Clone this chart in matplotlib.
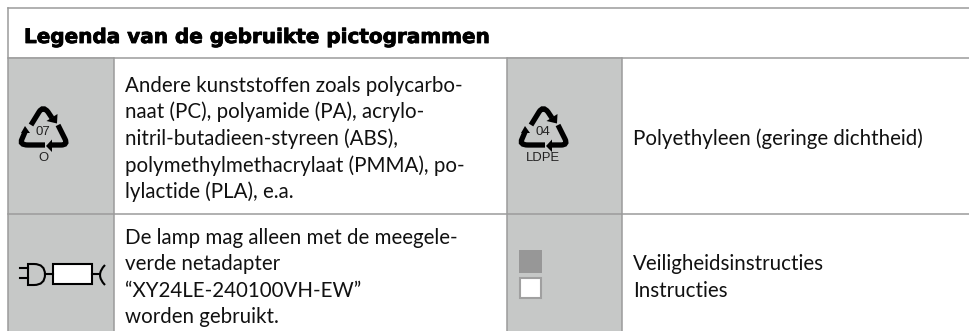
import matplotlib
matplotlib.use('Agg')
import matplotlib.pyplot as plt
import matplotlib.patheffects as pe
from matplotlib.patches import Rectangle, Polygon, PathPatch
from matplotlib.path import Path

title = 'Legenda van de gebruikte pictogrammen'
left_lines_1 = ['Andere kunststoffen zoals polycarbo-', 'naat (PC), polyamide (PA), acrylo-',
                'nitril-butadieen-styreen (ABS),', 'polymethylmethacrylaat (PMMA), po-',
                'lylactide (PLA), e.a.']
left_lines_2 = ['De lamp mag alleen met de meegele-', 'verde netadapter',
                '\u201cXY24LE-240100VH-EW\u201d', 'worden gebruikt.']
right_lines_1 = ['Polyethyleen (geringe dichtheid)']
right_lines_2 = ['Veiligheidsinstructies', 'Instructies']
y_left_1 = [92, 118.5, 145, 172, 198]
y_left_2 = [244, 270, 297, 323]
y_right_1 = [145]
y_right_2 = [270, 297]

GREY = '#c6c8c7'
LINE = '#9b9b9b'
FONT = 'Lato'
TXT = 14.8

fig = plt.figure(figsize=(9.69, 3.31), dpi=100)
ax = fig.add_axes([0, 0, 1, 1])
ax.set_xlim(0, 969)
ax.set_ylim(331, 0)
ax.axis('off')

#Grey cells
ax.add_patch(Rectangle((8, 57), 106, 274, fc=GREY, ec='none'))
ax.add_patch(Rectangle((507, 57), 115, 274, fc=GREY, ec='none'))

#Table lines
for y in [8, 57.5, 214]:
    ax.plot([8, 969], [y, y], color=LINE, lw=1.1)
for x in [8, 114, 507, 622]:
    y0 = 8 if x == 8 else 57.5
    ax.plot([x, x], [y0, 331], color=LINE, lw=1.1)

head = ax.text(24, 43, title, fontsize=14.4, fontweight='bold', family='DejaVu Sans', va='baseline', color='black')
head.set_path_effects([pe.withStroke(linewidth=0.6, foreground='black')])


def lines(x, ys, txts):
    for y, t in zip(ys, txts):
        ax.text(x, y, t, fontsize=TXT, family=FONT, va='baseline', color='#111111')


lines(125, y_left_1, left_lines_1)
lines(125, y_left_2, left_lines_2)
lines(633, y_right_1, right_lines_1)
lines(633, y_right_2, right_lines_2)


def recycle(cx, num, code):
    #three bent arrows around a triangle, coords relative to centre x and absolute y
    M, L, C = Path.MOVETO, Path.LINETO, Path.CURVE3
    arms = [
        ([(-12, 125), (-4, 112), (0, 105.5), (5, 112), (9, 118)], [M, L, C, C, L]),
        ([(15, 125), (22, 139), (25, 145), (18, 145), (9, 145)], [M, L, C, C, L]),
        ([(2, 145), (-15, 145), (-24, 145), (-21, 139), (-18, 132)], [M, L, C, C, L]),
    ]
    for verts, codes in arms:
        pts = [(cx + a, b) for a, b in verts]
        ax.add_patch(PathPatch(Path(pts, codes), fc='none', ec='black', lw=3.8, capstyle='butt'))
    heads = [
        [(14, 123.5), (3.5, 121), (14.5, 114)],
        [(3, 146), (9, 139.5), (9, 152)],
        [(-18, 126), (-22, 133), (-13, 133)],
    ]
    for h in heads:
        ax.add_patch(Polygon([(cx + a, b) for a, b in h], fc='black', ec='none'))
    ax.text(cx, 132, num, fontsize=9.5, family='Liberation Sans', ha='center', va='center', color='#222222')
    ax.text(cx, 158, code, fontsize=9.4, family='Liberation Sans', ha='center', va='center', color='#222222')


recycle(43, '07', 'O')
recycle(543, '04', 'LDPE')

#Plug and lamp symbol
PLW = 1.5
for y in [268, 278]:
    ax.plot([20, 28], [y, y], color='black', lw=PLW)
plug = Path([(28, 264), (34, 264), (45, 264), (45, 274.5), (45, 285), (34, 285), (28, 285), (28, 264)],
            [Path.MOVETO, Path.LINETO, Path.CURVE3, Path.CURVE3, Path.CURVE3, Path.CURVE3, Path.LINETO, Path.CLOSEPOLY])
ax.add_patch(PathPatch(plug, fc='none', ec='black', lw=PLW))
ax.plot([45, 53], [274, 274], color='black', lw=PLW)
ax.add_patch(Rectangle((53, 264), 39, 20, fc='white', ec='black', lw=PLW))
ax.plot([92, 99], [274, 274], color='black', lw=PLW)
sock = Path([(105, 265), (95, 275), (105, 285)], [Path.MOVETO, Path.CURVE3, Path.CURVE3])
ax.add_patch(PathPatch(sock, fc='none', ec='black', lw=PLW))

#Instruction squares
ax.add_patch(Rectangle((519, 250), 23, 23, fc='#979797', ec='none'))
ax.add_patch(Rectangle((520, 278), 21, 20, fc='white', ec='#a0a0a0', lw=1.5))

fig.savefig('out.png', dpi=100)
